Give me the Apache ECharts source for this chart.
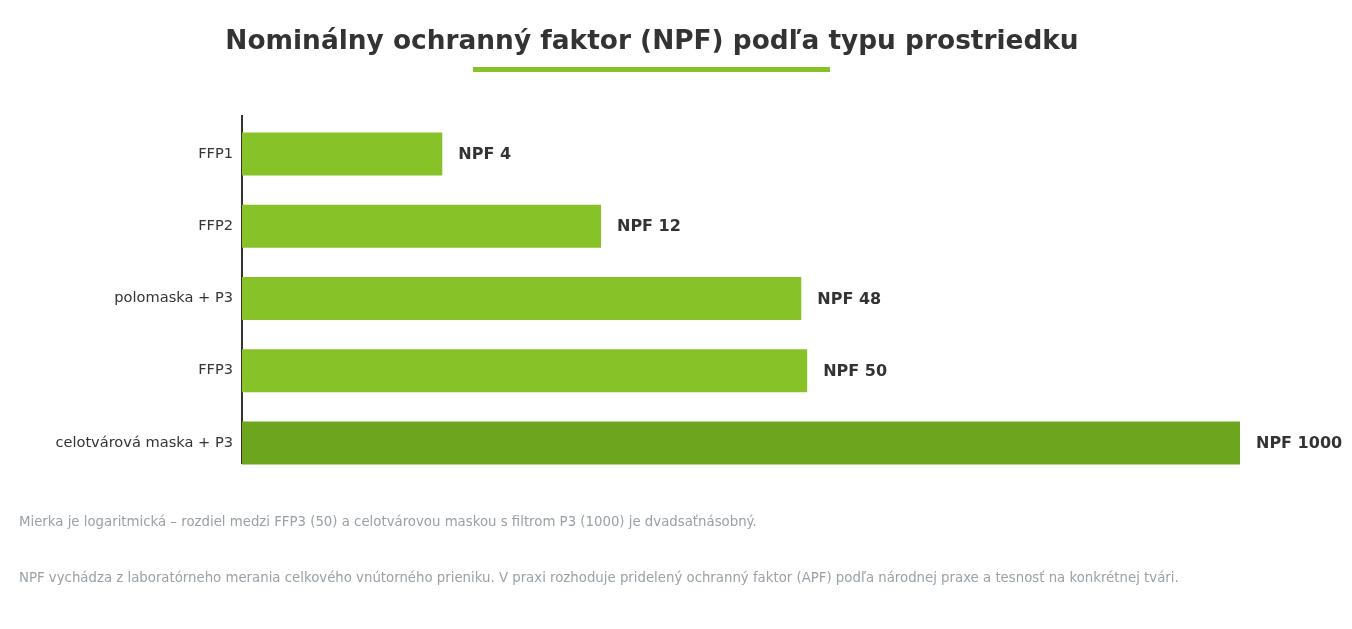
<!DOCTYPE html>
<html>
<head>
<meta charset="utf-8">
<script src="https://cdn.jsdelivr.net/npm/echarts@6/dist/echarts.min.js"></script>
<style>
  html, body { margin: 0; padding: 0; background: #fff; }
  #main { width: 1352px; height: 629px; }
</style>
</head>
<body>
<div id="main"></div>
<script type="text/javascript">
  // údaje grafu
  var categories = ['FFP1', 'FFP2', 'polomaska + P3', 'FFP3', 'celotvárová maska + P3'];
  var npfValues = [4, 12, 48, 50, 1000];
  var barColors = ['#86c228', '#86c228', '#86c228', '#86c228', '#6da51f'];
  var notes = [
    'Mierka je logaritmická – rozdiel medzi FFP3 (50) a celotvárovou maskou s filtrom P3 (1000) je dvadsaťnásobný.',
    'NPF vychádza z laboratórneho merania celkového vnútorného prieniku. V praxi rozhoduje pridelený ochranný faktor (APF) podľa národnej praxe a tesnosť na konkrétnej tvári.'
  ];

  var font = "'DejaVu Sans', sans-serif";

  var option = {
    textStyle: { fontFamily: font },
    title: {
      text: 'Nominálny ochranný faktor (NPF) podľa typu prostriedku',
      left: 647,
      top: 24,
      textAlign: 'center',
      textStyle: { fontSize: 26.4, fontWeight: 'bold', color: '#333', fontFamily: font }
    },
    grid: { left: 242, right: 112, top: 118, height: 361 },
    xAxis: {
      type: 'log',
      logBase: 10,
      min: 1,
      max: 1000,
      axisLine: { show: false },
      axisTick: { show: false },
      axisLabel: { show: false },
      splitLine: { show: false }
    },
    yAxis: {
      type: 'category',
      inverse: true,
      data: categories,
      axisLine: { show: false },
      axisTick: { show: false },
      axisLabel: { color: '#333', fontSize: 14.6, margin: 9, fontFamily: font, padding: [2, 0, 0, 0] }
    },
    series: [{
      type: 'bar',
      barWidth: 43,
      data: npfValues.map(function (v, i) {
        return { value: v, itemStyle: { color: barColors[i] } };
      }),
      label: {
        show: true,
        position: 'right',
        distance: 16,
        offset: [0, 1],
        formatter: function (p) { return 'NPF ' + p.value; },
        color: '#333',
        fontSize: 16,
        fontWeight: 'bold',
        fontFamily: font
      }
    }],
    graphic: [
      { type: 'rect', shape: { x: 473, y: 67, width: 357, height: 5 }, style: { fill: '#86c228' } },
      { type: 'line', shape: { x1: 242, y1: 115, x2: 242, y2: 464 }, style: { stroke: '#333', lineWidth: 2 } },
      { type: 'text', left: 19, top: 516, style: { text: notes[0], fill: '#99a1a6', fontSize: 13.3, fontFamily: font } },
      { type: 'text', left: 19, top: 572, style: { text: notes[1], fill: '#99a1a6', fontSize: 13.3, fontFamily: font } }
    ]
  };

  var myChart = echarts.init(document.getElementById('main'));
  myChart.setOption(option);
</script>
</body>
</html>
